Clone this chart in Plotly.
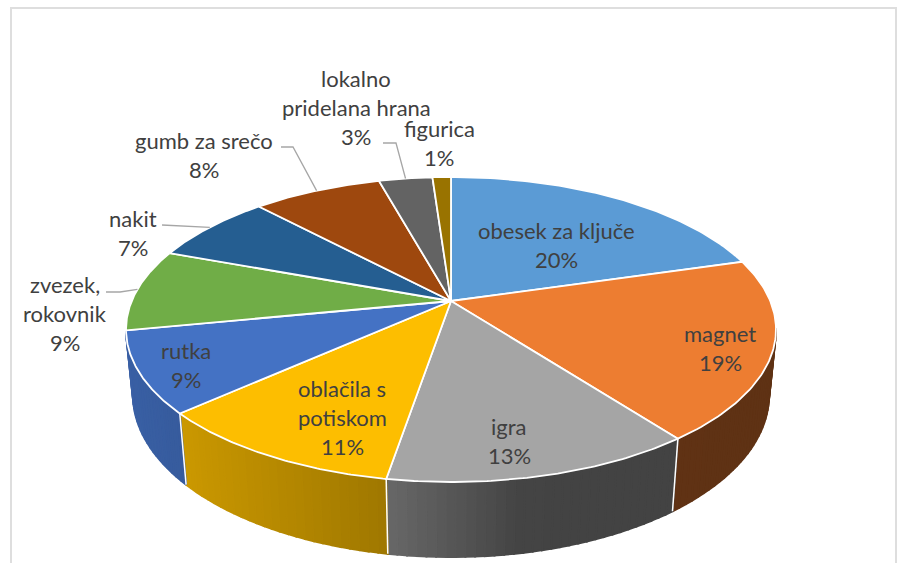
import numpy as np
import plotly.graph_objects as go

# ---- data ----
categories = ["obesek za ključe", "magnet", "igra", "oblačila s potiskom", "rutka",
              "zvezek, rokovnik", "nakit", "gumb za srečo", "lokalno pridelana hrana", "figurica"]
slice_shares = [20.5, 19.2, 13.0, 10.7, 8.6, 8.7, 7.4, 7.7, 3.2, 1.1]
percent_labels = ["20%", "19%", "13%", "11%", "9%", "9%", "7%", "8%", "3%", "1%"]
label_lines = [["obesek za ključe"], ["magnet"], ["igra"], ["oblačila s", "potiskom"], ["rutka"],
               ["zvezek,", "rokovnik"], ["nakit"], ["gumb za srečo"], ["lokalno", "pridelana hrana"], ["figurica"]]
top_colors = ["#5b9bd5", "#ed7d31", "#a5a5a5", "#fdbe00", "#4472c4",
              "#70ad47", "#255e91", "#9e480e", "#636363", "#997300"]

# ---- projection of the tilted disc (pixel space) ----
W, H = 897, 563
CX, APEX_Y = 451.0, 301.0
TOP_CY, TOP_RX, TOP_RY = 329.0, 325.0, 152.5
LOW_CY, LOW_RX, LOW_RY = 395.0, 318.0, 162.0
up, down = 124.0, 181.0
K = (down - up) / (down + up)
B = up * (1 + K)
A = TOP_RX * np.sqrt(1 - K * K)


def top_pt(theta):
    X, Y = np.sin(theta), np.cos(theta)
    w = 1 + K * Y
    return CX + A * X / w, APEX_Y - B * Y / w


def phi_of(theta):
    x, y = top_pt(theta)
    return np.arctan2((x - CX) / TOP_RX, (y - TOP_CY) / TOP_RY)


def low_pt(theta):
    phi = phi_of(theta)
    return CX + LOW_RX * np.sin(phi), LOW_CY + LOW_RY * np.cos(phi)


# wall darkening as a function of horizontal position
shade_x = [120, 180, 385, 520, 780]
shade_f = [0.84, 0.80, 0.63, 0.41, 0.40]


def shaded(hex_color, x):
    r, g, b = [int(hex_color[i:i + 2], 16) for i in (1, 3, 5)]
    f = float(np.interp(x, shade_x, shade_f))
    return f"rgb({r * f:.0f},{g * f:.0f},{b * f:.0f})"


shares = np.array(slice_shares, dtype=float)
edges = np.concatenate([[0], np.cumsum(shares)]) / shares.sum() * 2 * np.pi

fig = go.Figure()


def poly(xs, ys, fill, line, width):
    fig.add_trace(go.Scatter(x=xs, y=ys, mode="lines", fill="toself", fillcolor=fill,
                             line=dict(color=line, width=width), hoverinfo="skip",
                             showlegend=False))


# side walls: front half only, each slice in narrow strips for the gradient
step = np.radians(1.5)
for i, color in enumerate(top_colors):
    t0, t1 = edges[i], edges[i + 1]
    n = max(1, int(np.ceil((t1 - t0) / step)))
    grid = np.linspace(t0, t1, n + 1)
    for a, b in zip(grid[:-1], grid[1:]):
        if abs(phi_of((a + b) / 2)) > np.radians(90):
            continue
        ts = np.array([a, b])
        xt, yt = top_pt(ts)
        xl, yl = low_pt(ts)
        xs = [xt[0], xt[1], xl[1], xl[0], xt[0]]
        ys = [yt[0], yt[1], yl[1], yl[0], yt[0]]
        c = shaded(color, float(np.mean(xt)))
        poly(xs, ys, c, c, 2)

# white separators on the wall
for e in edges[:-1]:
    if abs(phi_of(e)) < np.radians(80):
        xt, yt = top_pt(e)
        xl, yl = low_pt(e)
        fig.add_trace(go.Scatter(x=[xt, xl], y=[yt, yl], mode="lines",
                                 line=dict(color="white", width=1.5),
                                 hoverinfo="skip", showlegend=False))

# top faces
for i, color in enumerate(top_colors):
    ts = np.linspace(edges[i], edges[i + 1], 80)
    x, y = top_pt(ts)
    poly(np.r_[CX, x, CX], np.r_[APEX_Y, y, APEX_Y], color, "white", 1.8)

# ---- text ----
FONT = "Lato, Carlito, Calibri, sans-serif"
FONT_SIZE = 22
LINE_STEP = 29.2
TEXT_COLOR = "#404040"
label_anchor = [(556, 230.5), (720, 333.5), (509, 426.5), (342, 388.5), (186, 350.5),
                (65, 284.5), (133, 218.5), (204, 140.5), (356, 78.5), (439, 128.5)]
annotations = []
for lines, pct, (lx, ly) in zip(label_lines, percent_labels, label_anchor):
    for j, text in enumerate(lines + [pct]):
        annotations.append(dict(x=lx, y=ly + j * LINE_STEP, text=text, showarrow=False,
                                xref="x", yref="y", xanchor="center", yanchor="middle",
                                font=dict(family=FONT, size=FONT_SIZE, color=TEXT_COLOR)))

# leader lines end at the rim, at the middle of their slice
leaders = {7: [(281, 147), (293, 147)], 8: [(383, 143), (396, 143)],
           6: [(162, 225)], 5: [(106, 292), (120, 292)]}
for idx, start in leaders.items():
    ex, ey = top_pt((edges[idx] + edges[idx + 1]) / 2)
    xs = [p[0] for p in start] + [ex]
    ys = [p[1] for p in start] + [ey]
    fig.add_trace(go.Scatter(x=xs, y=ys, mode="lines", line=dict(color="#a6a6a6", width=1.3),
                             hoverinfo="skip", showlegend=False))

fig.update_layout(
    width=W, height=H, autosize=False,
    margin=dict(l=0, r=0, t=0, b=0),
    paper_bgcolor="white", plot_bgcolor="white",
    xaxis=dict(range=[0, W], visible=False, fixedrange=True),
    yaxis=dict(range=[H, 0], visible=False, fixedrange=True),
    annotations=annotations,
    shapes=[dict(type="rect", xref="x", yref="y", x0=11, y0=8, x1=896, y1=580,
                 line=dict(color="#dedede", width=2), layer="below")],
)
fig.write_html("out.html", config=dict(displayModeBar=False),
               post_script="document.body.style.margin='0';document.body.style.overflow='hidden';")
